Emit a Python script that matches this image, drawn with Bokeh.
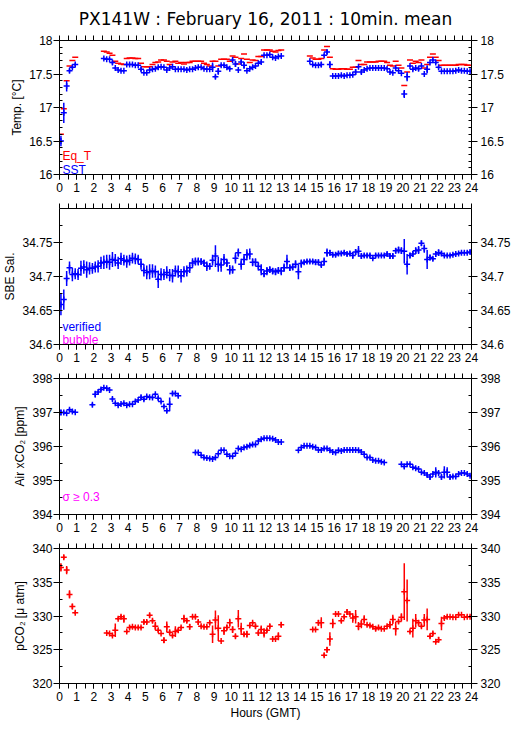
from bokeh.plotting import figure
from bokeh.layouts import column
from bokeh.models import (LinearAxis, SingleIntervalTicker, FixedTicker, ColumnDataSource, Label,
                          Range1d, PrintfTickFormatter)
from bokeh.embed import file_html
from bokeh.resources import INLINE

N = None
# 10-minute mean bins (bin centres, in hours GMT)
bin_minutes = [5, 15, 25, 35, 45, 55]
hours = [h + m / 60 for h in range(24) for m in bin_minutes]
half_hour_ticks = [k / 2 for k in range(49)]

eq_t = [
    16.60, 16.98, 17.40, 17.62, 17.70, 17.75,
    N, N, N, N, N, N,
    N, N, N, 17.84, 17.83, 17.81,
    17.78, 17.69, 17.66, 17.65, 17.64, 17.73,
    17.74, 17.74, 17.73, 17.73, 17.66, 17.61,
    17.61, 17.61, 17.64, 17.67, 17.68, 17.71,
    17.71, 17.69, 17.64, 17.68, 17.69, 17.66,
    17.67, 17.65, 17.67, 17.67, 17.69, 17.69,
    17.69, 17.69, 17.66, 17.64, 17.62, 17.69,
    17.69, 17.62, 17.72, 17.72, 17.72, 17.69,
    17.77, 17.75, 17.65, 17.73, 17.80, 17.72,
    17.67, 17.71, 17.70, 17.76, 17.76, 17.86,
    17.86, 17.86, 17.84, 17.83, 17.85, 17.86,
    N, N, N, N, N, N,
    N, N, N, 17.77, 17.74, 17.72,
    17.72, 17.73, 17.86, 17.91, 17.75, 17.58,
    17.57, 17.57, 17.58, 17.58, 17.57, 17.57,
    17.60, 17.60, 17.70, 17.64, 17.64, 17.68,
    17.68, 17.68, 17.68, 17.69, 17.69, 17.69,
    17.67, 17.63, 17.62, 17.69, 17.63, 17.59,
    17.33, 17.53, 17.71, 17.66, 17.69, 17.67,
    17.71, 17.59, 17.64, 17.75, 17.80, 17.75,
    17.70, 17.63, 17.63, 17.63, 17.63, 17.63,
    17.63, 17.64, 17.64, 17.64, 17.63, 17.63,
]

sst = [
    16.50, 16.92, 17.32, 17.55, 17.60, 17.64,
    N, N, N, N, N, N,
    N, N, N, 17.73, 17.72, 17.72,
    17.67, 17.59, 17.56, 17.55, 17.55, 17.64,
    17.64, 17.64, 17.63, 17.63, 17.57, 17.52,
    17.52, 17.56, 17.57, 17.58, 17.60, 17.61,
    17.60, 17.56, 17.59, 17.61, 17.57, 17.57,
    17.57, 17.57, 17.56, 17.57, 17.57, 17.59,
    17.60, 17.60, 17.58, 17.57, 17.57, 17.60,
    17.46, 17.54, 17.63, 17.63, 17.60, 17.58,
    17.71, 17.65, 17.56, 17.68, 17.63, 17.55,
    17.58, 17.60, 17.62, 17.66, 17.68, 17.78,
    17.78, 17.79, 17.75, 17.74, 17.76, 17.77,
    N, N, N, N, N, N,
    N, N, N, 17.69, 17.64, 17.63,
    17.63, 17.64, 17.78, 17.83, 17.64, 17.47,
    17.47, 17.47, 17.48, 17.47, 17.48, 17.48,
    17.49, 17.53, 17.61, 17.53, 17.56, 17.58,
    17.59, 17.59, 17.59, 17.59, 17.59, 17.59,
    17.58, 17.53, 17.52, 17.59, 17.55, 17.51,
    17.20, 17.46, 17.62, 17.57, 17.59, 17.58,
    17.62, 17.50, 17.57, 17.67, 17.71, 17.67,
    17.60, 17.54, 17.54, 17.54, 17.54, 17.54,
    17.55, 17.56, 17.55, 17.55, 17.54, 17.54,
]

sst_sd = [
    0.08, 0.15, 0.08, 0.03, 0.02, 0.02,
    N, N, N, N, N, N,
    N, N, N, 0.01, 0.01, 0.01,
    0.03, 0.01, 0.01, 0.01, 0.01, 0.01,
    0.01, 0.01, 0.01, 0.01, 0.03, 0.01,
    0.01, 0.01, 0.01, 0.01, 0.01, 0.01,
    0.01, 0.01, 0.01, 0.01, 0.01, 0.01,
    0.01, 0.01, 0.01, 0.01, 0.01, 0.01,
    0.01, 0.01, 0.01, 0.01, 0.01, 0.07,
    0.03, 0.05, 0.02, 0.02, 0.01, 0.02,
    0.02, 0.04, 0.01, 0.03, 0.05, 0.01,
    0.01, 0.01, 0.01, 0.01, 0.02, 0.01,
    0.01, 0.01, 0.01, 0.01, 0.01, 0.01,
    N, N, N, N, N, N,
    N, N, N, 0.01, 0.01, 0.01,
    0.01, 0.04, 0.02, 0.03, 0.05, 0.01,
    0.01, 0.01, 0.01, 0.01, 0.01, 0.01,
    0.01, 0.04, 0.01, 0.03, 0.01, 0.01,
    0.01, 0.01, 0.01, 0.01, 0.01, 0.01,
    0.01, 0.01, 0.01, 0.02, 0.01, 0.01,
    0.06, 0.07, 0.01, 0.02, 0.01, 0.03,
    0.01, 0.01, 0.06, 0.01, 0.02, 0.02,
    0.02, 0.01, 0.01, 0.01, 0.01, 0.01,
    0.01, 0.01, 0.01, 0.01, 0.01, 0.01,
]

sal = [
    34.659, 34.666, 34.697, 34.713, 34.703, 34.704,
    34.703, 34.712, 34.714, 34.710, 34.712, 34.712,
    34.714, 34.715, 34.720, 34.721, 34.722, 34.721,
    34.725, 34.724, 34.720, 34.726, 34.724, 34.722,
    34.724, 34.727, 34.726, 34.725, 34.718, 34.709,
    34.706, 34.707, 34.708, 34.707, 34.696, 34.703,
    34.703, 34.706, 34.702, 34.701, 34.708, 34.707,
    34.701, 34.707, 34.708, 34.713, 34.720, 34.722,
    34.722, 34.722, 34.720, 34.715, 34.715, 34.724,
    34.730, 34.718, 34.717, 34.725, 34.720, 34.710,
    34.710, 34.727, 34.735, 34.718, 34.725, 34.732,
    34.733, 34.721, 34.721, 34.715, 34.710, 34.704,
    34.708, 34.710, 34.708, 34.707, 34.709, 34.708,
    34.713, 34.722, 34.713, 34.714, 34.718, 34.707,
    34.719, 34.721, 34.722, 34.722, 34.722, 34.721,
    34.721, 34.717, 34.722, 34.735, 34.735, 34.732,
    34.732, 34.734, 34.734, 34.735, 34.733, 34.734,
    34.731, 34.736, 34.737, 34.730, 34.731, 34.731,
    34.731, 34.727, 34.731, 34.731, 34.731, 34.731,
    34.733, 34.730, 34.730, 34.738, 34.739, 34.738,
    34.737, 34.718, 34.731, 34.733, 34.738, 34.739,
    34.749, 34.741, 34.725, 34.728, 34.726, 34.733,
    34.735, 34.734, 34.731, 34.731, 34.731, 34.732,
    34.733, 34.734, 34.735, 34.735, 34.735, 34.736,
]

sal_sd = [
    0.016, 0.015, 0.011, 0.009, 0.010, 0.008,
    0.008, 0.011, 0.010, 0.012, 0.009, 0.008,
    0.008, 0.009, 0.009, 0.010, 0.010, 0.011,
    0.011, 0.009, 0.009, 0.009, 0.008, 0.009,
    0.008, 0.008, 0.008, 0.007, 0.008, 0.009,
    0.010, 0.011, 0.010, 0.009, 0.013, 0.009,
    0.008, 0.009, 0.009, 0.010, 0.008, 0.009,
    0.010, 0.008, 0.008, 0.008, 0.007, 0.006,
    0.006, 0.005, 0.005, 0.007, 0.005, 0.008,
    0.016, 0.011, 0.010, 0.008, 0.006, 0.007,
    0.006, 0.008, 0.006, 0.008, 0.008, 0.008,
    0.008, 0.006, 0.006, 0.006, 0.008, 0.005,
    0.006, 0.005, 0.005, 0.005, 0.005, 0.006,
    0.006, 0.010, 0.005, 0.005, 0.006, 0.011,
    0.006, 0.003, 0.003, 0.003, 0.003, 0.004,
    0.004, 0.003, 0.006, 0.006, 0.004, 0.003,
    0.003, 0.003, 0.003, 0.003, 0.003, 0.003,
    0.005, 0.004, 0.008, 0.004, 0.003, 0.003,
    0.003, 0.002, 0.003, 0.002, 0.002, 0.002,
    0.003, 0.004, 0.004, 0.004, 0.005, 0.005,
    0.018, 0.015, 0.004, 0.004, 0.005, 0.006,
    0.004, 0.006, 0.014, 0.004, 0.003, 0.004,
    0.005, 0.003, 0.002, 0.002, 0.002, 0.002,
    0.002, 0.002, 0.002, 0.002, 0.002, 0.003,
]

xco2 = [
    397.00, 397.00, 396.98, 397.08, 397.03, 397.01,
    N, N, N, N, N, 397.23,
    397.54, 397.60, 397.68, 397.73, 397.71, 397.66,
    397.40, 397.27, 397.21, 397.25, 397.27, 397.21,
    397.24, 397.24, 397.32, 397.37, 397.45, 397.39,
    397.47, 397.45, 397.44, 397.54, 397.42, 397.32,
    397.18, 397.05, 397.24, 397.56, 397.56, 397.49,
    N, N, N, N, N, 395.82,
    395.82, 395.74, 395.68, 395.66, 395.65, 395.63,
    395.68, 395.79, 395.89, 395.89, 395.77, 395.71,
    395.71, 395.80, 395.94, 395.92, 395.97, 395.99,
    396.03, 396.06, 396.06, 396.16, 396.21, 396.24,
    396.24, 396.24, 396.23, 396.19, 396.13, 396.13,
    N, N, N, N, N, 395.89,
    395.97, 396.02, 396.02, 396.02, 395.99, 395.97,
    395.90, 395.90, 395.94, 395.94, 395.89, 395.84,
    395.82, 395.89, 395.87, 395.90, 395.90, 395.90,
    395.90, 395.90, 395.89, 395.84, 395.77, 395.68,
    395.68, 395.60, 395.58, 395.58, 395.55, 395.53,
    N, N, N, N, N, 395.48,
    395.41, 395.48, 395.48, 395.39, 395.36, 395.34,
    395.24, 395.22, 395.16, 395.10, 395.19, 395.24,
    395.22, 395.10, 395.24, 395.24, 395.10, 395.12,
    395.12, 395.19, 395.22, 395.22, 395.19, 395.14,
]

xco2_sd = [
    0.08, 0.03, 0.02, 0.05, 0.04, 0.03,
    N, N, N, N, N, 0.05,
    0.10, 0.05, 0.05, 0.03, 0.03, 0.03,
    0.05, 0.03, 0.03, 0.03, 0.03, 0.03,
    0.03, 0.03, 0.03, 0.03, 0.06, 0.05,
    0.03, 0.03, 0.03, 0.03, 0.06, 0.03,
    0.05, 0.06, 0.20, 0.06, 0.03, 0.05,
    N, N, N, N, N, 0.03,
    0.03, 0.03, 0.03, 0.03, 0.03, 0.03,
    0.03, 0.03, 0.03, 0.03, 0.03, 0.03,
    0.03, 0.03, 0.03, 0.03, 0.03, 0.03,
    0.03, 0.03, 0.03, 0.03, 0.03, 0.03,
    0.03, 0.03, 0.03, 0.03, 0.03, 0.03,
    N, N, N, N, N, 0.03,
    0.03, 0.03, 0.03, 0.03, 0.03, 0.03,
    0.03, 0.03, 0.03, 0.03, 0.03, 0.03,
    0.03, 0.03, 0.03, 0.03, 0.03, 0.03,
    0.03, 0.03, 0.03, 0.03, 0.03, 0.03,
    0.03, 0.03, 0.03, 0.03, 0.03, 0.03,
    N, N, N, N, N, 0.03,
    0.06, 0.03, 0.03, 0.03, 0.03, 0.03,
    0.03, 0.03, 0.06, 0.08, 0.03, 0.15,
    0.05, 0.07, 0.18, 0.15, 0.07, 0.04,
    0.03, 0.03, 0.03, 0.03, 0.03, 0.03,
]

pco2 = [
    337.2, 338.7, 336.8, 333.2, 331.4, 330.5,
    N, N, N, N, N, N,
    N, N, N, N, 327.5, 327.4,
    327.1, 327.9, 329.6, 329.9, 329.6, 327.7,
    328.3, 328.4, 328.3, 328.3, 328.3, 329.1,
    329.1, 330.1, 329.3, 328.5, 327.9, 327.4,
    326.4, 328.4, 327.6, 327.1, 327.7, 327.9,
    328.3, 329.6, 329.3, 328.4, 329.9, 329.9,
    329.1, 328.5, 328.4, 328.4, 329.0, 327.3,
    329.4, 328.2, 326.3, 327.8, 328.3, 329.0,
    328.0, 327.0, 329.6, 328.1, 327.3, 327.3,
    328.6, 329.0, 328.5, 327.5, 328.0, 327.5,
    327.9, 328.5, 326.6, 326.6, 327.0, 328.7,
    N, N, N, N, N, N,
    N, N, N, N, 328.0, 328.0,
    329.0, 329.0, 324.2, 325.0, 326.6, 328.9,
    330.3, 330.3, 329.3, 329.9, 330.6, 330.3,
    329.7, 329.9, 328.5, 328.8, 329.5, 328.7,
    328.6, 328.4, 328.1, 328.3, 328.1, 328.1,
    328.5, 328.7, 329.5, 328.1, 329.2, 329.8,
    333.6, 332.3, 327.7, 328.2, 329.3, 329.0,
    328.5, 329.4, 329.5, 327.0, 327.4, 326.2,
    326.5, 328.9, 329.7, 329.9, 329.9, 329.8,
    329.8, 330.2, 330.2, 329.8, 329.9, 329.9,
]

pco2_sd = [
    0.6, 0.3, 0.6, 0.6, 0.4, 0.2,
    N, N, N, N, N, N,
    N, N, N, N, 0.15, 0.1,
    0.2, 1.0, 0.2, 0.3, 0.6, 0.2,
    0.3, 0.2, 0.2, 0.2, 0.2, 0.3,
    0.3, 0.3, 0.3, 0.6, 0.3, 0.1,
    0.4, 0.8, 0.3, 0.3, 0.8, 0.3,
    0.2, 0.6, 0.3, 0.4, 0.2, 0.3,
    0.4, 0.2, 0.2, 0.2, 0.3, 1.3,
    1.4, 1.9, 0.1, 0.6, 0.4, 0.6,
    0.5, 0.3, 1.3, 0.9, 0.3, 0.5,
    0.3, 0.2, 0.3, 0.3, 0.6, 0.7,
    0.3, 0.3, 0.2, 0.2, 0.6, 0.4,
    N, N, N, N, N, N,
    N, N, N, N, 0.15, 0.1,
    0.4, 0.8, 0.3, 0.4, 1.0, 0.7,
    0.2, 0.2, 0.3, 0.3, 0.4, 0.2,
    0.7, 1.0, 0.6, 0.6, 0.6, 0.2,
    0.2, 0.2, 0.3, 0.2, 0.1, 0.1,
    0.2, 0.6, 0.7, 1.0, 0.3, 0.6,
    4.2, 3.1, 0.2, 1.4, 1.0, 0.4,
    0.3, 0.9, 1.6, 0.3, 0.3, 0.2,
    0.4, 1.0, 0.3, 0.2, 0.1, 0.1,
    0.1, 0.2, 0.1, 0.1, 0.2, 0.2,
]

BLUE = "#0000ff"
RED = "#ff0000"
MAGENTA = "#ff00ff"
FONT = "Liberation Sans"
LW = 1.5


def src(vals, sd=None):
    d = {"t": [], "y": [], "lo": [], "hi": []}
    for i, v in enumerate(vals):
        if v is None:
            continue
        e = sd[i] if sd is not None else 0.0
        d["t"].append(hours[i])
        d["y"].append(v)
        d["lo"].append(v - e)
        d["hi"].append(v + e)
    return ColumnDataSource(d)


def panel(ymin, ymax, ymajor, nminor, ylabel, top_b, bottom_b, xlabel=None):
    p = figure(width=513, height=top_b + 136 + bottom_b,
               x_range=Range1d(0, 24), y_range=Range1d(ymin, ymax),
               output_backend="svg", toolbar_location=None,
               x_axis_location=None, y_axis_location=None,
               min_border_left=53, min_border_right=40,
               min_border_top=top_b, min_border_bottom=bottom_b)
    p.xgrid.visible = False
    p.ygrid.visible = False
    p.outline_line_color = None
    fmt = "%.6g"

    # bottom axis: hour labels, ticks every half hour
    bx = LinearAxis(ticker=SingleIntervalTicker(interval=1, num_minor_ticks=2),
                    formatter=PrintfTickFormatter(format=fmt))
    bx.major_tick_out = 5
    bx.major_tick_in = 0
    bx.minor_tick_out = 5
    bx.minor_tick_in = 0
    bx.axis_line_color = "black"
    bx.major_label_standoff = 3
    bx.major_label_text_font = FONT
    bx.major_label_text_font_size = "12px"
    bx.major_label_text_color = "black"
    if xlabel:
        bx.axis_label = xlabel
        bx.axis_label_text_font = FONT
        bx.axis_label_text_font_size = "12px"
        bx.axis_label_text_font_style = "normal"
        bx.axis_label_text_color = "black"
        bx.axis_label_standoff = 2
    p.add_layout(bx, "below")

    # top axis: ticks only
    tx = LinearAxis(ticker=FixedTicker(ticks=[], minor_ticks=half_hour_ticks))
    tx.minor_tick_out = 5
    tx.minor_tick_in = 0
    tx.major_label_standoff = 0
    tx.axis_line_color = "black"
    p.add_layout(tx, "above")

    def yaxis(side):
        ax = LinearAxis(ticker=SingleIntervalTicker(interval=ymajor, num_minor_ticks=nminor),
                        formatter=PrintfTickFormatter(format=fmt))
        ax.major_tick_out = 6
        ax.major_tick_in = 0
        ax.minor_tick_out = 0
        ax.minor_tick_in = 3
        ax.axis_line_color = "black"
        ax.major_label_text_font = FONT
        ax.major_label_text_font_size = "12px"
        ax.major_label_text_color = "black"
        ax.major_label_standoff = 1 if side == "left" else 3
        return ax

    ly = yaxis("left")
    ly.axis_label = ylabel
    ly.axis_label_text_font = FONT
    ly.axis_label_text_font_size = "12px"
    ly.axis_label_text_font_style = "normal"
    ly.axis_label_text_color = "black"
    ly.axis_label_standoff = 2
    p.add_layout(ly, "left")
    p.add_layout(yaxis("right"), "right")
    return p


def crosses(p, s, color):
    p.segment(x0="t", y0="lo", x1="t", y1="hi", source=s, line_color=color, line_width=LW)
    p.scatter(x="t", y="y", source=s, marker="cross", size=6, line_color=color, line_width=LW)


def legend(p, x, y, text, color):
    p.add_layout(Label(x=x, y=y, text=text, text_color=color, text_font=FONT,
                       text_font_size="12px", text_baseline="alphabetic", text_align="left"))


# Panel 1: temperatures
p1 = panel(16, 18, 0.5, 5, "Temp. [°C]", 38, 29)
p1.title.text = "PX141W : February 16, 2011 : 10min. mean"
p1.title.text_font = "DejaVu Sans"
p1.title.text_font_size = "17px"
p1.title.text_font_style = "normal"
p1.title.text_color = "black"
p1.title.align = "center"
p1.title.offset = -4
p1.title.standoff = 13
p1.scatter(x="t", y="y", source=src(eq_t), marker="dash", size=6, line_color=RED, line_width=LW)
crosses(p1, src(sst, sst_sd), BLUE)
legend(p1, 0.17, 16.28, "Eq_T", RED)
legend(p1, 0.17, 16.06, "SST", BLUE)

# Panel 2: salinity
p2 = panel(34.6, 34.8, 0.05, 2, "SBE Sal.", 5, 29)
crosses(p2, src(sal, sal_sd), BLUE)
legend(p2, 0.17, 34.626, "verified", BLUE)
legend(p2, 0.17, 34.607, "bubble", MAGENTA)

# Panel 3: air xCO2
p3 = panel(394, 398, 1, 2, "Air xCO₂ [ppm]", 5, 29)
crosses(p3, src(xco2, xco2_sd), BLUE)
legend(p3, 0.17, 394.52, "σ ≥ 0.3", MAGENTA)

# Panel 4: pCO2
p4 = panel(320, 340, 5, 2, "pCO₂ [μ atm]", 5, 38, xlabel="Hours (GMT)")
crosses(p4, src(pco2, pco2_sd), RED)

layout = column(p1, p2, p3, p4, spacing=0)

open("out.html", "w").write(file_html(layout, INLINE))
